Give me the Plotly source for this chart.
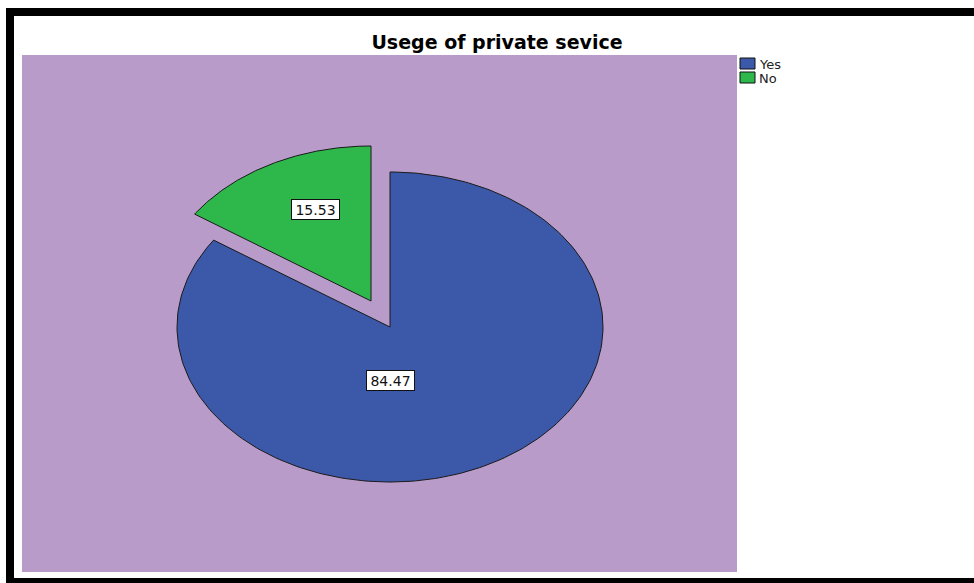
import numpy as np
import plotly.graph_objects as go

# ---- data ----
categories = ["Yes", "No"]
percentages = [84.47, 15.53]
label_texts = ["84.47", "15.53"]

# ---- style ----
colors = ["#3C58A9", "#2EB84B"]
pulls = [0.0, 0.19]
RX, RY = 213, 155          # ellipse radii (axis units = px)
BG = "#B89BC9"
FONT = "DejaVu Sans, Arial, sans-serif"

W, H = 974, 583
L, R, T, B = 22, 974 - 737, 55, 583 - 572
CX, CY = 390, 327          # pie centre in pixels

fig = go.Figure()

total = sum(percentages)
start = 0.0
label_offsets = {"Yes": (0.0, -0.345), "No": (-0.26, 0.59)}  # fraction of radii, relative to slice vertex
for cat, val, col, pull in zip(categories, percentages, colors, pulls):
    span = 360.0 * val / total
    t = np.radians(np.linspace(start, start + span, 240))
    mid = np.radians(start + span / 2)
    ox = pull * RX * np.sin(mid)
    oy = pull * RY * np.cos(mid)
    xs = np.concatenate([[ox], ox + RX * np.sin(t), [ox]])
    ys = np.concatenate([[oy], oy + RY * np.cos(t), [oy]])
    fig.add_trace(go.Scatter(
        x=xs, y=ys, mode="lines", fill="toself", fillcolor=col,
        line=dict(color="#1a1a1a", width=1), name=cat, showlegend=False,
        hoverinfo="name"))
    start += span

# value labels
start = 0.0
for cat, val, pull, txt in zip(categories, percentages, pulls, label_texts):
    span = 360.0 * val / total
    mid = np.radians(start + span / 2)
    ox = pull * RX * np.sin(mid)
    oy = pull * RY * np.cos(mid)
    fx, fy = label_offsets[cat]
    fig.add_annotation(
        x=ox + fx * RX, y=oy + fy * RY, text=txt, showarrow=False,
        font=dict(family=FONT, size=14, color="#111"),
        bgcolor="white", bordercolor="#111", borderwidth=1, borderpad=1,
        width=45, height=17,
        xanchor="center", yanchor="middle")
    start += span

# legend (drawn manually)
def px_to_paper(px, py):
    return (px - L) / (W - L - R), (H - B - py) / (H - T - B)

for i, (cat, col) in enumerate(zip(categories, colors)):
    y0 = 58 + i * 14
    x0p, y0p = px_to_paper(740, y0)
    x1p, y1p = px_to_paper(755, y0 + 11)
    fig.add_shape(type="rect", xref="paper", yref="paper",
                  x0=x0p, x1=x1p, y0=y1p, y1=y0p,
                  fillcolor=col, line=dict(color="#111", width=1))
    tx, ty = px_to_paper(758, y0 + 6)
    fig.add_annotation(xref="paper", yref="paper", x=tx, y=ty, text=cat,
                       showarrow=False, xanchor="left", yanchor="middle",
                       height=12, borderpad=0,
                       font=dict(family=FONT, size=13, color="#222"))

# black frame
frames = [(6, 8, 14, 583), (6, 8, 974, 16), (6, 578, 974, 583)]
for x0, y0, x1, y1 in frames:
    a, b_ = px_to_paper(x0, y0)
    c, d = px_to_paper(x1, y1)
    fig.add_shape(type="rect", xref="paper", yref="paper",
                  x0=a, x1=c, y0=d, y1=b_, fillcolor="black",
                  line=dict(width=0), layer="above")

fig.update_layout(
    width=W, height=H,
    margin=dict(l=L, r=R, t=T, b=B),
    paper_bgcolor="white", plot_bgcolor=BG,
    title=dict(text="<b>Usege of private sevice</b>", x=497 / W, xanchor="center",
               y=1 - 42 / H, yanchor="middle",
               font=dict(family=FONT, size=19, color="black")),
    xaxis=dict(range=[L - CX, W - R - CX], visible=False, fixedrange=True),
    yaxis=dict(range=[CY - (H - B), CY - T], visible=False, fixedrange=True),
    showlegend=False,
)

fig.write_html("out.html", config={"displayModeBar": False},
               post_script="document.body.style.margin='0';document.body.style.overflow='hidden';")
